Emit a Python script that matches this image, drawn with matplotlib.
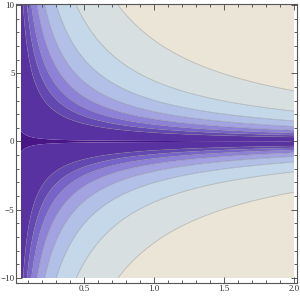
import numpy as np
import matplotlib
matplotlib.use("Agg")
import matplotlib.pyplot as plt

# Plot domain
x_range = [0.05, 2.0]
y_range = [-10.0, 10.0]

# Contour levels of x*|y|
levels = [0.0, 0.04, 0.65, 0.93, 1.24, 1.64, 2.19, 3.02, 4.45, 7.43, 25.0]
band_colors = ["#481687", "#5832a0", "#6448b2", "#7864c8", "#8e82d7",
               "#a3a3e2", "#b2c0e8", "#c4d8ea", "#d8dfe0", "#ebe5d8"]

x_ticks = [0.5, 1.0, 1.5, 2.0]
x_labels = ["0.5", "1.0", "1.5", "2.0"]
y_ticks = [-10, -5, 0, 5, 10]
y_labels = ["\u221210", "\u22125", "0", "5", "10"]

fig = plt.figure(figsize=(3.0, 2.96), dpi=100)
ax = fig.add_axes([16/300, 13/296, 281/300, 279/296])
ax.set_facecolor("white")

xs = np.linspace(x_range[0], x_range[1], 500)
ys = np.linspace(y_range[0], y_range[1], 801)
X, Y = np.meshgrid(xs, ys)
U = X * np.abs(Y)

ax.contourf(X, Y, U, levels=levels, colors=band_colors, antialiased=True)
ax.contour(X, Y, U, levels=levels[2:-1], colors=[(0.45, 0.45, 0.45, 0.4)],
           linewidths=0.6)

ax.set_xlim(x_range[0] - 5/140, x_range[1] + 3/140)
ax.set_ylim(y_range[0] - 5/13.65, y_range[1] + 1/13.65)

ax.set_xticks(x_ticks)
ax.set_xticklabels(x_labels)
ax.set_yticks(y_ticks)
ax.set_yticklabels(y_labels)
ax.set_xticks(np.arange(0.1, 2.01, 0.1), minor=True)
ax.set_yticks(np.arange(-10, 11, 1), minor=True)

for lab in ax.get_xticklabels() + ax.get_yticklabels():
    lab.set_fontfamily("Liberation Serif")
    lab.set_fontsize(6.5)
    lab.set_color("#333333")

ax.tick_params(which="both", direction="in", top=True, right=True,
               color="#444444", width=0.6)
ax.tick_params(which="major", length=4, pad=1.5)
ax.tick_params(axis="y", which="major", pad=1)
ax.tick_params(which="minor", length=2)
for sp in ax.spines.values():
    sp.set_color("#555555")
    sp.set_linewidth(0.8)

fig.savefig("out.png", dpi=100)
